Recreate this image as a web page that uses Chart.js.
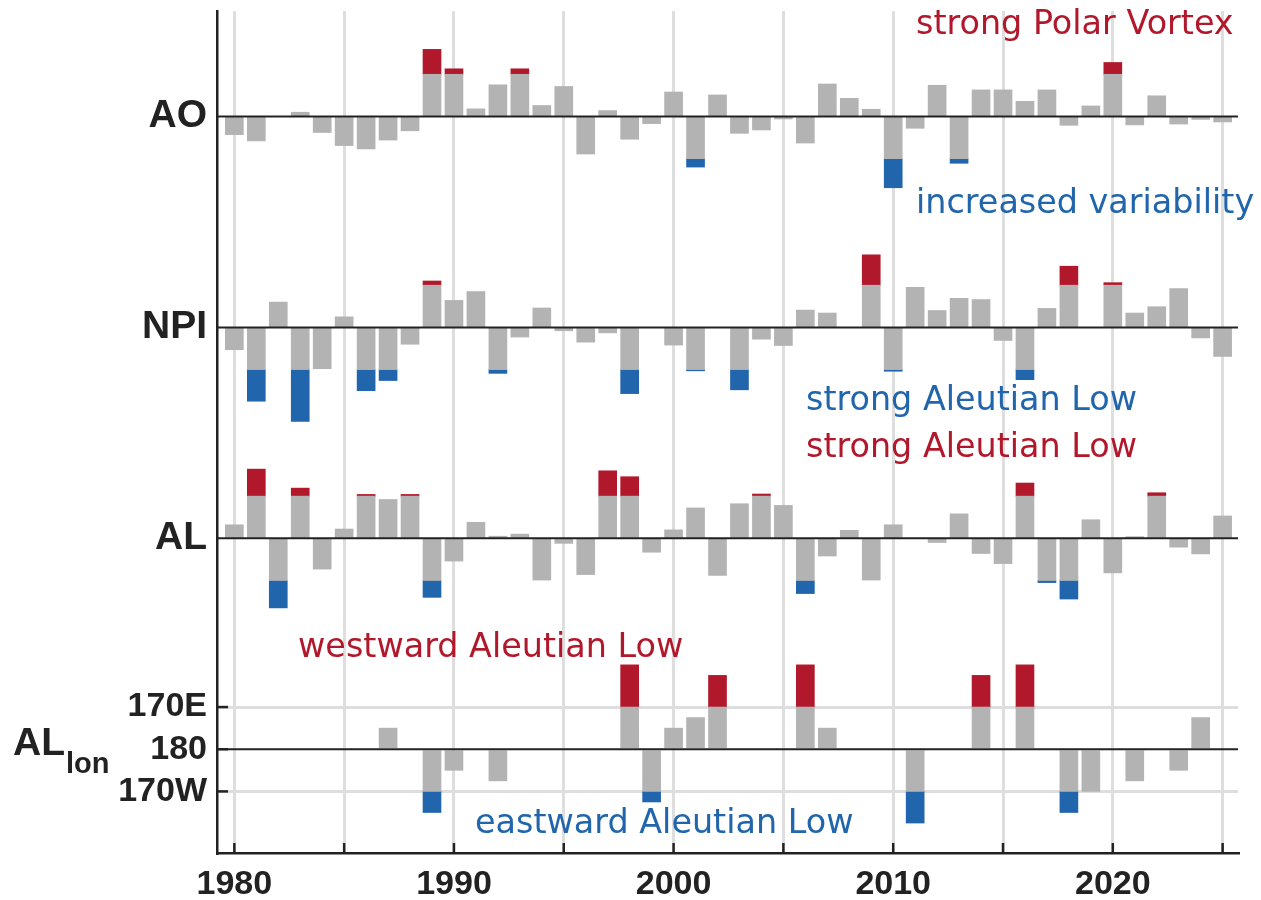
<!DOCTYPE html>
<html>
<head>
<meta charset="utf-8">
<script src="https://cdn.jsdelivr.net/npm/chart.js@4.4.0/dist/chart.umd.min.js"></script>
<style>
    html, body { margin: 0; padding: 0; background: #fff; }
    canvas { display: block; }
</style>
</head>
<body>
<canvas id="indexChart" width="1261" height="900"></canvas>
<script>
    const years = [
        1980, 1981, 1982, 1983, 1984, 1985, 1986, 1987, 1988, 1989,
        1990, 1991, 1992, 1993, 1994, 1995, 1996, 1997, 1998, 1999,
        2000, 2001, 2002, 2003, 2004, 2005, 2006, 2007, 2008, 2009,
        2010, 2011, 2012, 2013, 2014, 2015, 2016, 2017, 2018, 2019,
        2020, 2021, 2022, 2023, 2024, 2025,
    ];

    // standardized anomalies (1 = one standard deviation)
    const ao = [
        -0.43, -0.58, 0.00, 0.10, -0.38, -0.69, -0.77, -0.56, -0.34, 1.59,
        1.13, 0.18, 0.75, 1.13, 0.26, 0.71, -0.89, 0.14, -0.54, -0.17,
        0.58, -1.20, 0.51, -0.40, -0.32, -0.06, -0.63, 0.77, 0.43, 0.17,
        -1.69, -0.28, 0.74, -1.11, 0.63, 0.63, 0.36, 0.63, -0.21, 0.25,
        1.28, -0.20, 0.49, -0.18, -0.07, -0.13,
    ];
    const npi = [
        -0.53, -1.75, 0.60, -2.23, -0.98, 0.25, -1.50, -1.26, -0.40, 1.10,
        0.64, 0.85, -1.09, -0.23, 0.46, -0.08, -0.35, -0.13, -1.57, 0.00,
        -0.42, -1.03, 0.00, -1.48, -0.28, -0.43, 0.41, 0.34, 0.00, 1.72,
        -1.04, 0.95, 0.40, 0.69, 0.66, -0.31, -1.24, 0.45, 1.45, 0.00,
        1.06, 0.34, 0.49, 0.92, -0.25, -0.69,
    ];
    const al = [
        0.32, 1.64, -1.65, 1.19, -0.73, 0.22, 1.04, 0.92, 1.04, -1.40,
        -0.54, 0.38, 0.05, 0.10, -0.99, -0.12, -0.86, 1.60, 1.46, -0.33,
        0.20, 0.72, -0.88, 0.82, 1.05, 0.78, -1.31, -0.42, 0.19, -0.99,
        0.32, 0.00, -0.10, 0.58, -0.36, -0.60, 1.31, -1.05, -1.44, 0.44,
        -0.82, 0.04, 1.08, -0.21, -0.37, 0.53,
    ];
    // Aleutian Low longitude, degrees from 180 (positive = toward 170E), null = none
    const alLon = [
        null, null, null, null, null, null, null, 5, null, -15,
        -5, null, -7.5, null, null, null, null, null, 20, -12.5,
        5, 7.5, 17.5, null, null, null, 20, 5, null, null,
        null, -17.5, null, null, 17.5, null, 20, null, -15, -10,
        null, -7.5, null, -5, 7.5, null,
    ];

    const panelOffsets = [15, 10, 5, 0];
    const threshold = 1;
    const xTickYears = [1980, 1985, 1990, 1995, 2000, 2005, 2010, 2015, 2020, 2025];
    const yTickValues = [-1, 0, 1, 5, 10, 15];
    const yTickLabels = ['170W', '180', '170E', 'AL', 'NPI', 'AO'];

    const annotations = [
        { text: 'strong Polar Vortex', x: 2011.04, y: 16.95, color: '#b2182b' },
        { text: 'increased variability', x: 2011.04, y: 12.70, color: '#2166ac' },
        { text: 'strong Aleutian Low', x: 2006.03, y: 8.03, color: '#2166ac' },
        { text: 'strong Aleutian Low', x: 2006.03, y: 6.93, color: '#b2182b' },
        { text: 'westward Aleutian Low', x: 1982.9, y: 2.18, color: '#b2182b' },
        { text: 'eastward Aleutian Low', x: 1990.96, y: -1.99, color: '#2166ac' },
    ];

    const panels = [ao, npi, al, alLon.map((d) => (d === null ? null : d / 10))];
    const grayBars = [];
    const redBars = [];
    const blueBars = [];
    panels.forEach((values, p) => {
        const base = panelOffsets[p];
        values.forEach((v, i) => {
            if (v === null) return;
            const x = years[i];
            const core = Math.max(-threshold, Math.min(threshold, v));
            grayBars.push({ x, y: [base, base + core] });
            if (v > threshold) redBars.push({ x, y: [base + threshold, base + v] });
            if (v < -threshold) blueBars.push({ x, y: [base - threshold, base + v] });
        });
    });

    const ink = '#222222';
    const labelFont = 'Liberation Sans, Arial, sans-serif';

    const overlay = {
        id: 'overlay',
        afterDatasetsDraw(chart) {
            const { ctx, chartArea } = chart;
            const xs = chart.scales.x;
            const ys = chart.scales.y;
            ctx.save();

            ctx.strokeStyle = ink;
            ctx.lineWidth = 2;
            panelOffsets.forEach((off) => {
                const y = ys.getPixelForValue(off);
                ctx.beginPath();
                ctx.moveTo(chartArea.left, y);
                ctx.lineTo(chartArea.right, y);
                ctx.stroke();
            });

            ctx.lineWidth = 2.5;
            [-1, 0, 1].forEach((v) => {
                const y = ys.getPixelForValue(v);
                ctx.beginPath();
                ctx.moveTo(chartArea.left, y);
                ctx.lineTo(chartArea.left + 11, y);
                ctx.stroke();
            });
            xTickYears.forEach((yr) => {
                const x = xs.getPixelForValue(yr);
                ctx.beginPath();
                ctx.moveTo(x, chartArea.bottom);
                ctx.lineTo(x, chartArea.bottom - 10);
                ctx.stroke();
            });

            // AL with subscript lon
            ctx.fillStyle = ink;
            ctx.textAlign = 'right';
            ctx.textBaseline = 'alphabetic';
            ctx.font = 'bold 39px ' + labelFont;
            ctx.fillText('AL', 65, 755);
            ctx.textAlign = 'left';
            ctx.font = 'bold 29px ' + labelFont;
            ctx.fillText('lon', 66, 773);

            ctx.font = '33.4px "DejaVu Sans", Verdana, sans-serif';
            annotations.forEach((a) => {
                ctx.fillStyle = a.color;
                ctx.fillText(a.text, xs.getPixelForValue(a.x), ys.getPixelForValue(a.y));
            });
            ctx.restore();
        },
    };

    new Chart(document.getElementById('indexChart'), {
        type: 'bar',
        data: {
            datasets: [
                { data: grayBars, backgroundColor: '#b3b3b3' },
                { data: redBars, backgroundColor: '#b2182b' },
                { data: blueBars, backgroundColor: '#2166ac' },
            ],
        },
        options: {
            responsive: false,
            animation: false,
            events: [],
            layout: { padding: { top: 11, right: 23, bottom: 0, left: 0 } },
            datasets: { bar: { barThickness: 18, grouped: false, borderWidth: 0 } },
            plugins: { legend: { display: false }, tooltip: { enabled: false } },
            scales: {
                x: {
                    type: 'linear',
                    offset: false,
                    min: 1979.21,
                    max: 2025.7,
                    afterBuildTicks: (s) => { s.ticks = xTickYears.map((v) => ({ value: v })); },
                    afterFit: (s) => { s.height = 47; s.paddingLeft = 0; s.paddingRight = 0; },
                    grid: { offset: false, color: '#dedede', lineWidth: 3, drawTicks: false },
                    border: { display: true, color: ink, width: 2.5 },
                    ticks: {
                        autoSkip: false,
                        maxRotation: 0,
                        padding: 11,
                        color: ink,
                        font: { family: labelFont, weight: 'bold', size: 34 },
                        callback: (v) => (v % 10 === 0 ? String(v) : ''),
                    },
                },
                y: {
                    type: 'linear',
                    min: -2.46,
                    max: 17.5,
                    afterBuildTicks: (s) => { s.ticks = yTickValues.map((v) => ({ value: v })); },
                    afterFit: (s) => { s.width = 217; s.paddingTop = 0; s.paddingBottom = 0; },
                    grid: {
                        drawTicks: false,
                        lineWidth: 3,
                        color: (c) => (c.tick && Math.abs(c.tick.value) === 1 ? '#dedede' : 'rgba(0,0,0,0)'),
                    },
                    border: { display: true, color: ink, width: 2.5 },
                    ticks: {
                        autoSkip: false,
                        padding: 10,
                        color: ink,
                        font: (c) => ({
                            family: labelFont,
                            weight: 'bold',
                            size: c.tick && Math.abs(c.tick.value) <= 1 ? 34 : 39,
                        }),
                        callback: (v) => yTickLabels[yTickValues.indexOf(v)],
                    },
                },
            },
        },
        plugins: [overlay],
    });
</script>
</body>
</html>
